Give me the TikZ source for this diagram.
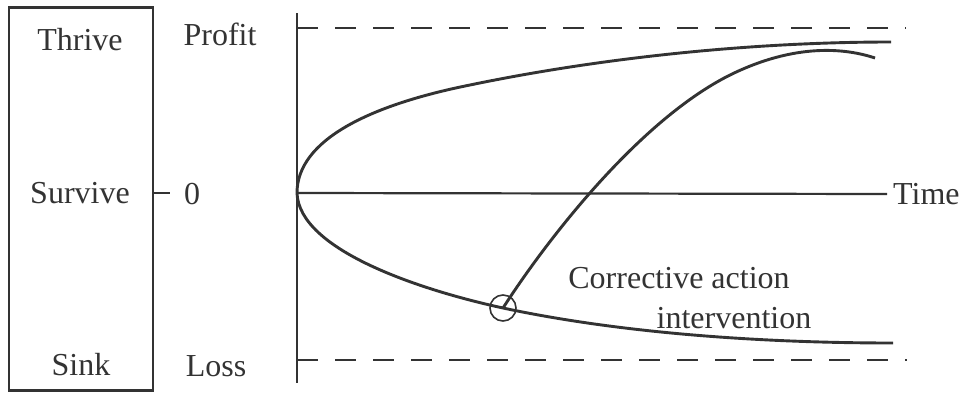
\documentclass[tikz,border=0pt]{standalone}
\usepackage{fontspec}
\setmainfont{Liberation Serif}
\usetikzlibrary{calc}
\definecolor{ink}{HTML}{333333}

\begin{document}
\begin{tikzpicture}[x=1pt, y=-1pt, font=\fontsize{32}{37}\selectfont, text=ink,
  curve/.style={draw=ink, line width=2.9pt},
  axis/.style={draw=ink, line width=2.2pt},
  limit/.style={draw=ink, line width=1.6pt, dash pattern=on 21pt off 17pt},
  word/.style={inner sep=0pt}]
  \useasboundingbox (0,0) rectangle (974,399);

  \node[draw=ink, line width=2.2pt, minimum width=144pt, minimum height=383pt] (scale) at (81,199) {};
  \node[word] (thrive) at (80,40) {Thrive};
  \node[word] (survive) at (80,193) {Survive};
  \node[word] (sink) at (81,365) {Sink};

  \node[word] (profit) at (220,34) {Profit};
  \node[word] (zero) at (192,194) {0};
  \node[word] (loss) at (216,366) {Loss};

  \coordinate (origin) at (297,193);
  \coordinate (top) at (297,13);
  \coordinate (bottom) at (297,383);
  \coordinate (tick) at (170,193);
  \node[word, anchor=west] (time) at (893,194) {Time};

  \draw[axis] (top) -- (bottom);
  \draw[axis] (origin) -- ($(time.west)+(-6,0)$);
  \draw[axis] (scale.east |- tick) -- (tick);
  \draw[limit] (297,28) -- (906,28);
  \draw[limit] (297,360) -- (907,360);

  % thrive and sink branches
  \draw[curve] (origin) .. controls (297,140) and (370,105) .. (470,85)
    .. controls (600,58) and (750,42) .. (891,42);
  \draw[curve] (origin) .. controls (299,250) and (420,290) .. (503,308)
    .. controls (620,333) and (760,343) .. (893,343);

  \node[draw=ink, line width=1.6pt, circle, minimum size=26pt, inner sep=0pt] (turn) at (503,308) {};
  \draw[curve] (turn.center) .. controls (548,238) and (640,120) .. (730,75)
    .. controls (795,43) and (845,48) .. (875,58);

  \node[word] (action) at (679,278) {Corrective action};
  \node[word] (intervention) at (734,318) {intervention};
\end{tikzpicture}
\end{document}
